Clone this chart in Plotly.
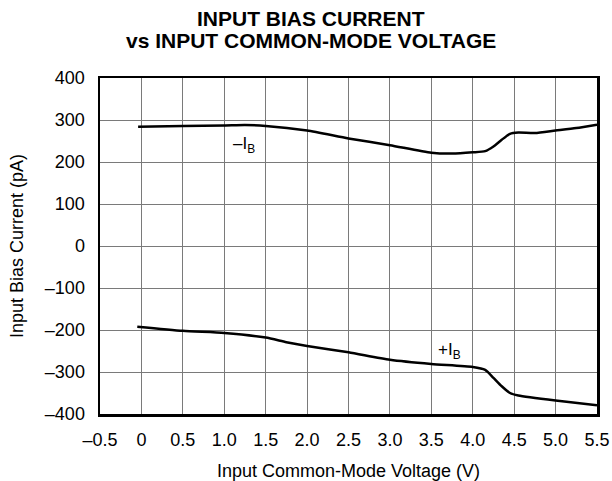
import plotly.graph_objects as go

# -I_B curve (pA) vs input common-mode voltage (V)
neg_ib_v = [-0.04, 0.5, 1.0, 1.25, 1.5, 2.0, 2.5, 3.0, 3.5, 3.75, 4.0, 4.15, 4.25, 4.35, 4.45, 4.55, 4.75, 5.0, 5.25, 5.5]
neg_ib_pa = [284, 286, 287, 288, 286, 275, 256, 240, 222, 220, 223, 226, 237, 253, 267, 270, 269, 275, 281, 289]

# +I_B curve
pos_ib_v = [-0.05, 0.5, 1.0, 1.5, 1.75, 2.0, 2.5, 3.0, 3.5, 4.0, 4.15, 4.25, 4.35, 4.45, 4.55, 5.0, 5.5]
pos_ib_pa = [-192, -202, -207, -218, -229, -238, -253, -271, -281, -288, -295, -314, -334, -350, -356, -368, -379]

x_ticks = [-0.5, 0, 0.5, 1.0, 1.5, 2.0, 2.5, 3.0, 3.5, 4.0, 4.5, 5.0, 5.5]
x_tick_labels = ["–0.5", "0", "0.5", "1.0", "1.5", "2.0", "2.5", "3.0", "3.5", "4.0", "4.5", "5.0", "5.5"]
y_ticks = [400, 300, 200, 100, 0, -100, -200, -300, -400]
y_tick_labels = ["400", "300", "200", "100", "0", "–100", "–200", "–300", "–400"]

FONT = "Liberation Sans, Arial, sans-serif"

fig = go.Figure()
fig.add_trace(go.Scatter(x=neg_ib_v, y=neg_ib_pa, mode="lines",
                         line=dict(color="black", width=2.5, shape="spline", smoothing=0.6),
                         showlegend=False, hoverinfo="skip"))
fig.add_trace(go.Scatter(x=pos_ib_v, y=pos_ib_pa, mode="lines",
                         line=dict(color="black", width=2.5, shape="spline", smoothing=0.6),
                         showlegend=False, hoverinfo="skip"))

fig.update_layout(
    width=612, height=481,
    margin=dict(l=100, r=15, t=78, b=67, autoexpand=False),
    paper_bgcolor="white", plot_bgcolor="white",
    font=dict(family=FONT, size=18, color="black"),
    hovermode=False,
    xaxis=dict(range=[-0.5, 5.5], tickvals=x_ticks, ticktext=x_tick_labels,
               showgrid=True, gridcolor="#7a7a7a", gridwidth=1,
               showline=True, linecolor="black", linewidth=2.5, mirror=True,
               ticks="outside", ticklen=8, tickcolor="rgba(0,0,0,0)", zeroline=False,
               tickfont=dict(size=18), automargin=False,
               title=dict(text="Input Common-Mode Voltage (V)", font=dict(size=18), standoff=18)),
    yaxis=dict(range=[-400, 400], tickvals=y_ticks, ticktext=y_tick_labels,
               showgrid=True, gridcolor="#7a7a7a", gridwidth=1,
               showline=True, linecolor="black", linewidth=2.5, mirror=True,
               ticks="outside", ticklen=9, tickcolor="rgba(0,0,0,0)", zeroline=False,
               tickfont=dict(size=18), automargin=False,
               title=dict(text="Input Bias Current (pA)", font=dict(size=18), standoff=17)),
)

title_x = (311 - 100) / 497
fig.add_annotation(text="<b>INPUT BIAS CURRENT</b>", xref="paper", yref="paper",
                   x=title_x, y=1 + (78 - 19) / 336, xanchor="center", yanchor="middle",
                   showarrow=False, font=dict(size=21, family=FONT))
fig.add_annotation(text="<b>vs INPUT COMMON-MODE VOLTAGE</b>", xref="paper", yref="paper",
                   x=title_x, y=1 + (78 - 41) / 336, xanchor="center", yanchor="middle",
                   showarrow=False, font=dict(size=21, family=FONT))

fig.add_annotation(text="–I<sub>B</sub>", x=1.24, y=240, showarrow=False,
                   font=dict(size=17, family=FONT))
fig.add_annotation(text="+I<sub>B</sub>", x=3.72, y=-251, showarrow=False,
                   font=dict(size=17, family=FONT))

fig.write_html("out.html", config={"displayModeBar": False, "staticPlot": True},
               post_script="document.body.style.margin='0';document.body.style.overflow='hidden';")
